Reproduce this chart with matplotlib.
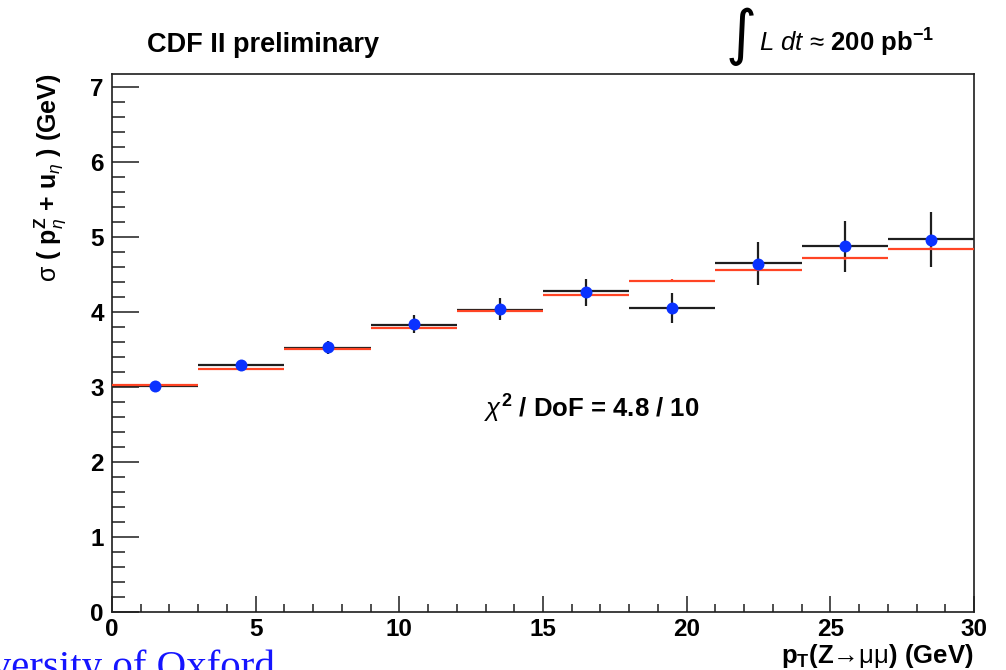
import numpy as np
import matplotlib
matplotlib.use("Agg")
import matplotlib.pyplot as plt

plt.rcParams["font.family"] = ["Liberation Sans", "DejaVu Sans"]
plt.rcParams["mathtext.fontset"] = "custom"
plt.rcParams["mathtext.rm"] = "Liberation Sans"
plt.rcParams["mathtext.it"] = "Liberation Sans:italic"
plt.rcParams["mathtext.bf"] = "Liberation Sans:bold"
plt.rcParams["mathtext.sf"] = "Liberation Sans"

# pT(Z) bins (GeV)
bin_edges = [0, 3, 6, 9, 12, 15, 18, 21, 24, 27, 30]
# measured resolution and its uncertainty
data_sigma = [3.01, 3.30, 3.53, 3.84, 4.04, 4.27, 4.06, 4.65, 4.88, 4.97]
data_err = [0.04, 0.06, 0.09, 0.12, 0.145, 0.18, 0.20, 0.29, 0.34, 0.37]
# black horizontal bin markers of the data histogram
data_hist = [3.02, 3.29, 3.52, 3.83, 4.03, 4.28, 4.06, 4.66, 4.88, 4.98]
# model prediction
model_sigma = [3.03, 3.24, 3.51, 3.79, 4.02, 4.23, 4.42, 4.57, 4.72, 4.85]
model_err = [0.01, 0.01, 0.01, 0.01, 0.01, 0.02, 0.02, 0.02, 0.02, 0.02]

x_ticks = [0, 5, 10, 15, 20, 25, 30]
y_ticks = [0, 1, 2, 3, 4, 5, 6, 7]

edges = np.array(bin_edges, dtype=float)
centers = 0.5 * (edges[:-1] + edges[1:])
half = 0.5 * np.diff(edges)

fig = plt.figure(figsize=(10.06, 6.70), dpi=100)
ax = fig.add_axes([112 / 1006, 1 - 612 / 670, (974 - 112) / 1006, (612 - 74) / 670])

black = "#1e1e1e"
red = "#ff4424"
blue = "#0a32ff"

# data: horizontal bin widths and vertical errors
ax.errorbar(centers, data_hist, xerr=half, fmt="none", ecolor=black,
            elinewidth=1.6, capsize=0, zorder=2)
ax.errorbar(centers, data_sigma, yerr=data_err, fmt="none", ecolor=black,
            elinewidth=1.6, capsize=0, zorder=2)
# model
ax.errorbar(centers, model_sigma, xerr=half, yerr=model_err, fmt="none",
            ecolor=red, elinewidth=1.6, capsize=0, zorder=3)
# data points
ax.plot(centers, data_sigma, "o", color=blue, ms=8.6, mew=0, zorder=4)

ax.set_xlim(0, 30)
ax.set_ylim(0, 7.18)
ax.set_xticks(x_ticks)
ax.set_yticks(y_ticks)
ax.set_xticks(np.arange(0, 30.01, 1), minor=True)
ax.set_yticks(np.arange(0, 7.01, 0.2), minor=True)
ax.tick_params(axis="both", which="both", direction="in", width=1.1,
               color=black, top=False, right=False)
ax.tick_params(axis="x", which="major", length=11.5, pad=4)
ax.tick_params(axis="x", which="minor", length=5.8)
ax.tick_params(axis="y", which="major", length=19.5, pad=6)
ax.tick_params(axis="y", which="minor", length=9.4)
for lab in ax.get_xticklabels() + ax.get_yticklabels():
    lab.set_fontsize(17.5)
    lab.set_fontweight("bold")
for sp in ax.spines.values():
    sp.set_linewidth(1.2)
    sp.set_color(black)

# axis titles
fig.text(973 / 1006, 1 - 663 / 670, r"p$_{\mathbf{T}}$(Z$\mathrm{→\mu\mu}$) (GeV)",
         ha="right", va="baseline", fontsize=18.5, fontweight="bold")
fig.text(50 / 1006, 1 - 73 / 670,
         r"$\mathrm{\sigma}$ ( p$_{\eta}^{\mathbf{Z}}$ + u$_{\eta}$ ) (GeV)",
         rotation=90, ha="center", va="top", fontsize=18, fontweight="bold")

# header texts
fig.text(147 / 1006, 1 - 52 / 670, "CDF II preliminary", ha="left",
         va="baseline", fontsize=19.5, fontweight="bold")
fig.text(741 / 1006, 1 - 37 / 670, "\u222b", ha="center", va="center",
         fontsize=43, family="DejaVu Sans")
fig.text(759 / 1006, 1 - 52 / 670, r"$\mathit{L\ dt}$ $\mathrm{≈}$ 200 pb$^{\mathbf{-1}}$",
         ha="left", va="baseline", fontsize=18.5, fontweight="bold")

# fit quality
ax.text(12.95, 2.59, r"$\chi^{\mathbf{2}}$ / DoF = 4.8 / 10", ha="left",
        va="baseline", fontsize=18.5, fontweight="bold")

# slide footer
fig.text(275 / 1006, 1 - 678 / 670, "University of Oxford", ha="right",
         va="baseline", fontsize=29.5, family="Liberation Serif", color="#1515ff")

fig.savefig("out.png", dpi=100)
